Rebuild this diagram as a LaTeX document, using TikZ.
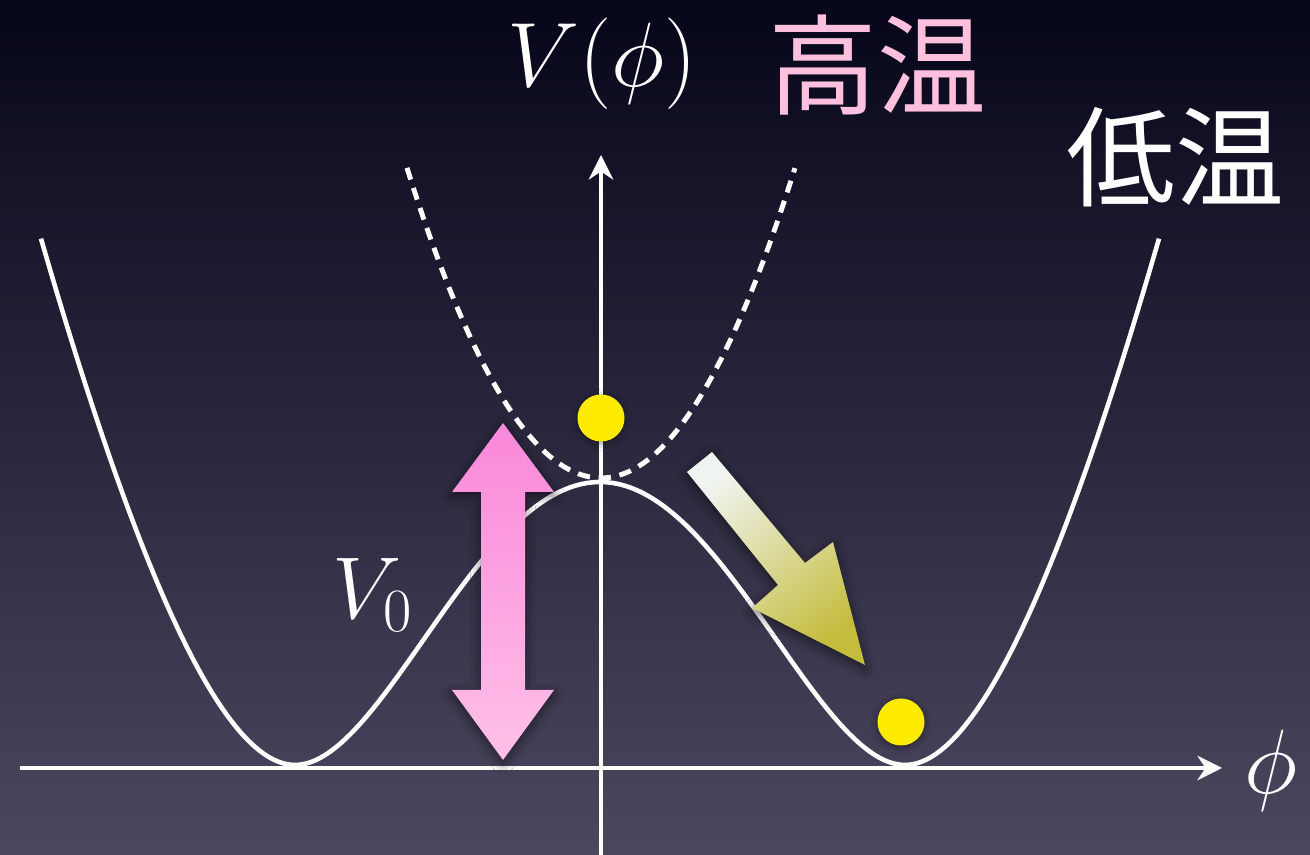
\documentclass[tikz,border=0pt]{standalone}
\usepackage{fix-cm}
\usepackage{fontspec}
\newfontfamily\cjk{Noto Sans CJK JP}
\usetikzlibrary{arrows.meta,shadows.blur}
\definecolor{bgtop}{RGB}{6,6,26}
\definecolor{bgmid}{RGB}{38,36,64}
\definecolor{bgbot}{RGB}{76,71,95}
\definecolor{ballyellow}{RGB}{255,235,0}
\definecolor{pinktop}{RGB}{250,136,218}
\definecolor{pinkbot}{RGB}{255,192,232}
\definecolor{olivetip}{RGB}{196,188,60}
\definecolor{olivetail}{RGB}{240,244,240}
\definecolor{hotpink}{RGB}{255,192,222}
\tikzset{
  axisline/.style={draw=white, line width=0.9pt, -{Stealth[length=7pt,width=7pt]}},
  wellcurve/.style={draw=white, line width=1.3pt, line join=round},
  hotcurve/.style={draw=white, line width=1.4pt, dash pattern=on 3.5pt off 2.5pt},
  ball/.style={fill=ballyellow, blur shadow={shadow xshift=0pt, shadow yshift=-0.5pt, shadow blur radius=2pt, shadow opacity=45}},
  softshadow/.style={blur shadow={shadow xshift=0pt, shadow yshift=-1pt, shadow blur radius=3pt, shadow opacity=55}},
  mathlabel/.style={text=white, inner sep=0pt, font=\fontsize{26}{30}\selectfont},
  cjklabel/.style={inner sep=0pt, font=\cjk\fontsize{31}{35}\selectfont}
}
\begin{document}
\begin{tikzpicture}
\useasboundingbox (0,0) rectangle (13.1,8.55);
% background
\shade[top color=bgtop, middle color=bgmid, bottom color=bgbot] (0,0) rectangle (13.1,8.55);
% axes
\coordinate (xstart) at (0.20,0.87);
\coordinate (xend) at (12.22,0.87);
\coordinate (ystart) at (6.01,0);
\coordinate (yend) at (6.01,7.00);
\draw[axisline] (xstart) -- (xend);
\draw[axisline] (ystart) -- (yend);
% high temperature potential (dashed)
\draw[hotcurve] plot[domain=-1.94:1.94, samples=80] ({6.01+\x},{3.77+0.824*\x*\x});
% low temperature double well
\draw[wellcurve]
  plot[domain=2.54:0, samples=50] ({2.95-\x},{0.9+1.22*\x*\x/(1+0.195*\x)})
  -- plot[domain=-3.05:3.05, samples=120] ({6.0+\x},{0.9+2.83*(1-(\x/3.05)^2)^2})
  -- plot[domain=0:2.54, samples=50] ({9.05+\x},{0.9+1.22*\x*\x/(1+0.195*\x)});
% balls
\path[ball] (6.01,4.37) circle (0.235);
\path[ball] (9.01,1.33) circle (0.235);
% pink double arrow
\shade[top color=pinktop, bottom color=pinkbot, softshadow]
  (5.03,4.32) -- (5.54,3.63) -- (5.25,3.63) -- (5.25,1.65) -- (5.54,1.65)
  -- (5.03,0.95) -- (4.52,1.65) -- (4.81,1.65) -- (4.81,3.63) -- (4.52,3.63) -- cycle;
% olive arrow
\shade[top color=olivetail, bottom color=olivetip, shading angle=39, softshadow]
  (6.87,3.83) -- (7.12,4.03) -- (8.05,2.92) -- (8.33,3.13) -- (8.65,1.90)
  -- (7.52,2.47) -- (7.78,2.70) -- cycle;
% labels
\node[mathlabel] (vphi) at (6.02,7.91) {$V(\phi)$};
\node[cjklabel, text=hotpink] (hot) at (8.77,7.90) {高温};
\node[cjklabel, text=white] (cold) at (11.75,6.98) {低温};
\node[mathlabel, font=\fontsize{25}{29}\selectfont] (vzero) at (3.73,2.60) {$V_0$};
\node[mathlabel] (phi) at (12.71,0.84) {$\phi$};
\end{tikzpicture}
\end{document}
